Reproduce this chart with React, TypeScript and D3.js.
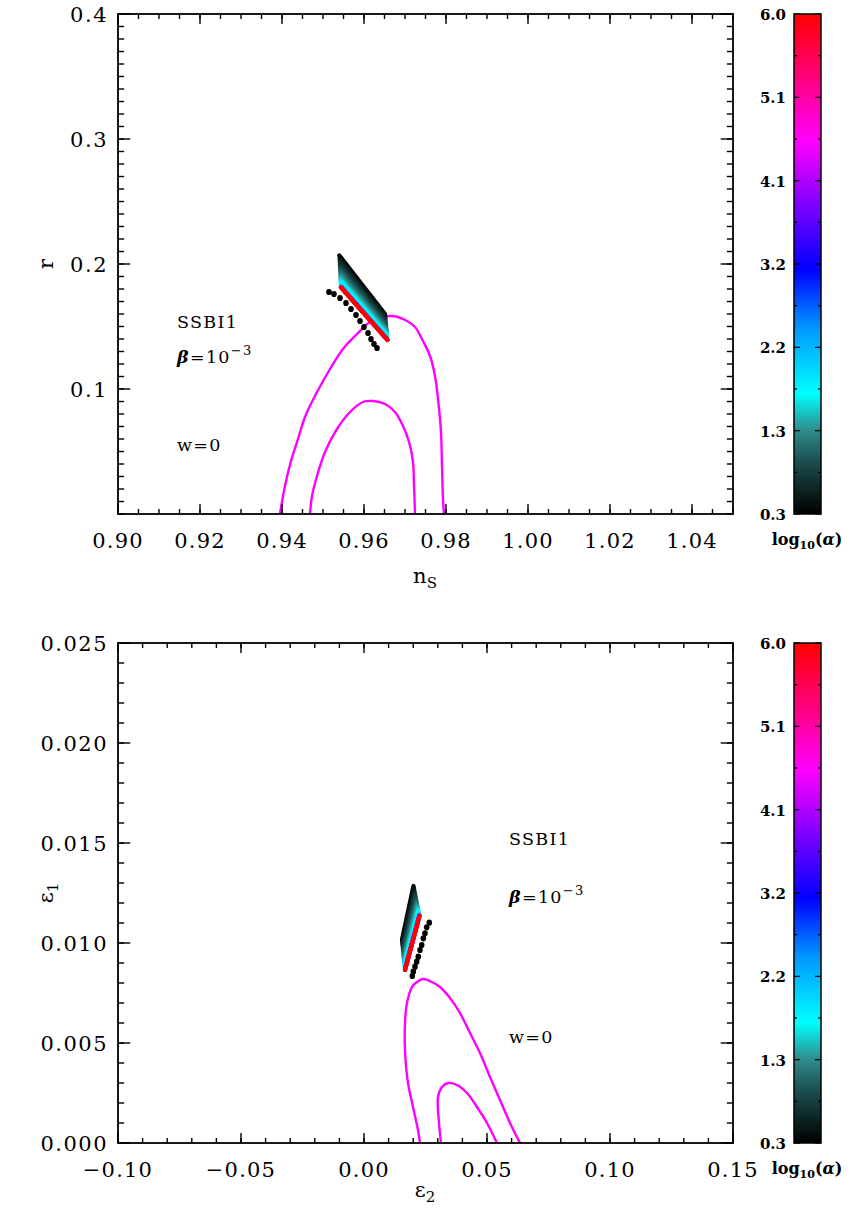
import React from "react";
import * as d3 from "d3";

// ---------------- DATA ----------------
// log10(alpha) levels of the scan
const logAlpha = [0.3, 0.4, 0.5, 0.6, 0.7, 0.8, 0.9, 1.0, 1.1, 1.2, 1.3, 1.4, 1.5, 1.6, 1.7, 1.8, 2.2, 3.2, 4.1, 5.1, 6.0];

// (n_s, r) plane: each alpha level runs from a "start" point to an "end" point
const nsStart = [0.954, 0.95405, 0.95407, 0.9541, 0.95412, 0.95415, 0.95418, 0.9542, 0.95422, 0.95425, 0.95427, 0.95429, 0.9543, 0.95432, 0.95433, 0.95435, 0.95438, 0.95438, 0.95439, 0.95439, 0.95439];
const rStart = [0.2068, 0.20501, 0.20322, 0.20142, 0.19963, 0.19784, 0.19605, 0.19426, 0.19272, 0.19118, 0.18965, 0.18837, 0.18709, 0.18606, 0.18504, 0.18427, 0.18184, 0.18158, 0.18146, 0.18133, 0.1812];
const nsEnd = [0.96512, 0.96516, 0.96521, 0.96525, 0.96529, 0.96533, 0.96538, 0.96542, 0.96546, 0.96549, 0.96553, 0.96556, 0.96559, 0.96561, 0.96564, 0.96566, 0.96571, 0.96572, 0.96572, 0.96573, 0.96573];
const rEnd = [0.16, 0.15854, 0.15709, 0.15563, 0.15418, 0.15272, 0.15126, 0.14981, 0.14856, 0.14731, 0.14606, 0.14502, 0.14398, 0.14315, 0.14232, 0.1417, 0.13972, 0.13951, 0.13941, 0.1393, 0.1392];

// (eps2, eps1) plane
const e2Start = [0.02012, 0.02029, 0.02046, 0.02063, 0.0208, 0.02097, 0.02114, 0.02132, 0.02146, 0.02161, 0.02175, 0.02188, 0.022, 0.0221, 0.02219, 0.02227, 0.0225, 0.02252, 0.02254, 0.02255, 0.02256];
const e1Start = [0.01285, 0.012745, 0.01264, 0.012535, 0.01243, 0.012325, 0.01222, 0.012115, 0.012025, 0.011935, 0.011845, 0.01177, 0.011695, 0.011635, 0.011575, 0.01153, 0.011388, 0.011373, 0.011365, 0.011358, 0.01135];
const e2End = [0.01545, 0.01554, 0.01562, 0.01571, 0.01579, 0.01588, 0.01596, 0.01605, 0.01612, 0.01619, 0.01627, 0.01633, 0.01639, 0.01644, 0.01649, 0.01652, 0.01664, 0.01665, 0.01666, 0.01666, 0.01667];
const e1End = [0.01015, 0.010045, 0.00994, 0.009835, 0.00973, 0.009625, 0.00952, 0.009415, 0.009325, 0.009235, 0.009145, 0.00907, 0.008995, 0.008935, 0.008875, 0.00883, 0.008688, 0.008673, 0.008665, 0.008658, 0.00865];

// black marker trail
const dotNs = [0.95146, 0.95268, 0.95415, 0.95561, 0.95683, 0.95805, 0.95902, 0.96, 0.96098, 0.96171, 0.96244, 0.96317];
const dotR = [0.1776, 0.176, 0.1728, 0.1688, 0.164, 0.1592, 0.1544, 0.1496, 0.1448, 0.14, 0.136, 0.1328];
const dotE2 = [0.02654, 0.02549, 0.0248, 0.02411, 0.02346, 0.02276, 0.02207, 0.02142, 0.02073, 0.02004, 0.01963];
const dotE1 = [0.011015, 0.010785, 0.010485, 0.010235, 0.0099, 0.00965, 0.009315, 0.009065, 0.008815, 0.008565, 0.00835];

// Planck contours, (n_s, r)
const outerNs = [0.9395, 0.94073, 0.9422, 0.9439, 0.94561, 0.94829, 0.95171, 0.95488, 0.95829, 0.96146, 0.9639, 0.96634, 0.96829, 0.97049, 0.97244, 0.97439, 0.9761, 0.97732, 0.97805, 0.97878, 0.97902, 0.97927, 0.97951];
const outerR = [0.0, 0.0224, 0.0424, 0.06, 0.0776, 0.096, 0.116, 0.132, 0.144, 0.1536, 0.1568, 0.1584, 0.1576, 0.1544, 0.1496, 0.1384, 0.1264, 0.1104, 0.092, 0.0656, 0.0384, 0.012, 0.0];
const innerNs = [0.94683, 0.94732, 0.94854, 0.95049, 0.95341, 0.95659, 0.95976, 0.9622, 0.96512, 0.96756, 0.96951, 0.97098, 0.97195, 0.9722, 0.97244];
const innerR = [0.0, 0.0144, 0.0304, 0.0496, 0.068, 0.0816, 0.0896, 0.0904, 0.088, 0.0816, 0.0704, 0.0576, 0.0416, 0.0224, 0.0];

// Planck contours, (eps2, eps1)
const outerE2 = [0.02276, 0.02195, 0.01992, 0.01789, 0.01667, 0.01667, 0.01748, 0.01951, 0.02154, 0.02398, 0.02764, 0.03089, 0.03496, 0.03902, 0.04309, 0.04715, 0.05122, 0.05528, 0.05935, 0.06341];
const outerE1 = [0.0, 0.00065, 0.0018, 0.003, 0.00465, 0.006, 0.007, 0.0078, 0.00805, 0.0082, 0.00805, 0.0078, 0.00725, 0.0065, 0.0055, 0.0045, 0.0033, 0.00215, 0.001, 0.0];
const innerE2 = [0.0313, 0.03049, 0.03008, 0.03171, 0.03415, 0.0378, 0.04187, 0.04593, 0.05, 0.05407];
const innerE1 = [0.0, 0.001, 0.0023, 0.0028, 0.003, 0.0029, 0.0025, 0.0018, 0.001, 0.0];

// axes
const nsTicks = [0.9, 0.92, 0.94, 0.96, 0.98, 1.0, 1.02, 1.04];
const nsTickLabels = ["0.90", "0.92", "0.94", "0.96", "0.98", "1.00", "1.02", "1.04"];
const rTicks = [0.1, 0.2, 0.3, 0.4];
const rTickLabels = ["0.1", "0.2", "0.3", "0.4"];
const e2Ticks = [-0.1, -0.05, 0.0, 0.05, 0.1, 0.15];
const e2TickLabels = ["\u22120.10", "\u22120.05", "0.00", "0.05", "0.10", "0.15"];
const e1Ticks = [0.0, 0.005, 0.01, 0.015, 0.02, 0.025];
const e1TickLabels = ["0.000", "0.005", "0.010", "0.015", "0.020", "0.025"];

// colour bar
const cbTicks = [0.3, 1.25, 2.2, 3.15, 4.1, 5.05, 6.0];
const cbTickLabels = ["0.3", "1.3", "2.2", "3.2", "4.1", "5.1", "6.0"];
const cmapPos = [0.3, 0.87, 1.27, 1.67, 2.41, 3.09, 3.83, 4.55, 5.26, 6.0];
const cmapColors = ["#000000", "#1a4a4a", "#2f8f8f", "#00ffff", "#0099ff", "#0000ff", "#7f00ff", "#ff00ff", "#ff0080", "#ff0000"];

// ---------------- DRAWING ----------------
const FONT = "'DejaVu Serif', serif";
const colour = d3.scaleLinear<string>().domain(cmapPos).range(cmapColors).interpolate(d3.interpolateRgb).clamp(true);

type PanelProps = {
  top: number;
  xDomain: [number, number];
  yDomain: [number, number];
  xTicks: number[]; xTickLabels: string[]; xMinor: number;
  yTicks: number[]; yTickLabels: string[]; yMinor: number;
  xs: number[]; ys: number[]; xe: number[]; ye: number[];
  dx: number[]; dy: number[];
  cont: [number[], number[]][];
  xLabel: React.ReactNode; yLabel: React.ReactNode; xLabelOff: number;
  annX: number; annY: [number, number, number];
  gid: string;
};

const L = 118, R = 733, PH = 500;

function Panel(p: PanelProps) {
  const x = d3.scaleLinear().domain(p.xDomain).range([L, R]);
  const y = d3.scaleLinear().domain(p.yDomain).range([p.top + PH, p.top]);
  const bottom = p.top + PH;
  const xMinorT = d3.range(Math.round((p.xDomain[1] - p.xDomain[0]) / p.xMinor) + 1).map(i => p.xDomain[0] + i * p.xMinor);
  const yMinorT = d3.range(Math.round((p.yDomain[1] - p.yDomain[0]) / p.yMinor) + 1).map(i => p.yDomain[0] + i * p.yMinor);
  const line = d3.line<[number, number]>().x(d => x(d[0])).y(d => y(d[1])).curve(d3.curveCatmullRom);
  const xTL = 10, yTL = 12.3;
  const cbL = 794, cbR = 821;
  const cy = d3.scaleLinear().domain([0.3, 6.0]).range([bottom, p.top]);
  const cbMinor = cbTicks.slice(0, -1).map((t, i) => (t + cbTicks[i + 1]) / 2);
  return (
    <g>
      <defs>
        <clipPath id={"clip" + p.gid}><rect x={L} y={p.top} width={R - L} height={PH} /></clipPath>
        <linearGradient id={"grad" + p.gid} x1="0" y1="1" x2="0" y2="0">
          {cmapPos.map((v, i) => (
            <stop key={i} offset={(v - 0.3) / 5.7} stopColor={cmapColors[i]} />
          ))}
        </linearGradient>
      </defs>
      <g clipPath={`url(#clip${p.gid})`}>
        {p.cont.map((c, i) => (
          <path key={i} d={line(c[0].map((v, j) => [v, c[1][j]] as [number, number])) || ""} fill="none" stroke="#ff00ff" strokeWidth={2.4} />
        ))}
      </g>
      {logAlpha.map((a, i) => (
        <line key={i} x1={x(p.xs[i])} y1={y(p.ys[i])} x2={x(p.xe[i])} y2={y(p.ye[i])} stroke={colour(a)} strokeWidth={4.3} strokeLinecap="round" />
      ))}
      {p.dx.map((v, i) => (
        <ellipse key={i} cx={x(v)} cy={y(p.dy[i])} rx={2.8} ry={3.1} fill="#000" />
      ))}
      {/* frame */}
      <rect x={L} y={p.top} width={R - L} height={PH} fill="none" stroke="#000" strokeWidth={1.8} />
      {xMinorT.map((t, i) => (
        <g key={"xm" + i} stroke="#000" strokeWidth={1.4}>
          <line x1={x(t)} x2={x(t)} y1={bottom} y2={bottom - xTL / 2} />
          <line x1={x(t)} x2={x(t)} y1={p.top} y2={p.top + xTL / 2} />
        </g>
      ))}
      {p.xTicks.map((t, i) => (
        <g key={"xt" + i}>
          <line x1={x(t)} x2={x(t)} y1={bottom} y2={bottom - xTL} stroke="#000" strokeWidth={1.4} />
          <line x1={x(t)} x2={x(t)} y1={p.top} y2={p.top + xTL} stroke="#000" strokeWidth={1.4} />
          <text x={x(t)} y={bottom + 34} textAnchor="middle" fontFamily={FONT} fontSize={21} letterSpacing={1.2}>{p.xTickLabels[i]}</text>
        </g>
      ))}
      {yMinorT.map((t, i) => (
        <g key={"ym" + i} stroke="#000" strokeWidth={1.4}>
          <line x1={L} x2={L + yTL / 2} y1={y(t)} y2={y(t)} />
          <line x1={R} x2={R - yTL / 2} y1={y(t)} y2={y(t)} />
        </g>
      ))}
      {p.yTicks.map((t, i) => (
        <g key={"yt" + i}>
          <line x1={L} x2={L + yTL} y1={y(t)} y2={y(t)} stroke="#000" strokeWidth={1.4} />
          <line x1={R} x2={R - yTL} y1={y(t)} y2={y(t)} stroke="#000" strokeWidth={1.4} />
          <text x={108} y={y(t) + 7.5} textAnchor="end" fontFamily={FONT} fontSize={21} letterSpacing={1.5}>{p.yTickLabels[i]}</text>
        </g>
      ))}
      <text x={425} y={bottom + p.xLabelOff} textAnchor="middle" fontFamily={FONT} fontSize={21}>{p.xLabel}</text>
      <text transform={`translate(53,${p.top + PH / 2}) rotate(-90)`} textAnchor="middle" fontFamily={FONT} fontSize={21}>{p.yLabel}</text>
      {/* annotations */}
      <g fontFamily={FONT} fontSize={17.5} letterSpacing={1.3}>
        <text x={p.annX} y={p.annY[0]}>SSBI1</text>
        <text x={p.annX} y={p.annY[1]}>
          <tspan fontStyle="italic" fontWeight="bold">β</tspan>=10<tspan dy={-8} fontSize={13}>−3</tspan>
        </text>
        <text x={p.annX} y={p.annY[2]}>w=0</text>
      </g>
      {/* colour bar */}
      <rect x={cbL} y={p.top} width={cbR - cbL} height={PH} fill={`url(#grad${p.gid})`} stroke="#000" strokeWidth={1.5} />
      {cbMinor.map((t, i) => (
        <g key={"cm" + i} stroke="#000" strokeWidth={1.2}>
          <line x1={cbL} x2={cbL + 3} y1={cy(t)} y2={cy(t)} />
          <line x1={cbR} x2={cbR - 3} y1={cy(t)} y2={cy(t)} />
        </g>
      ))}
      {cbTicks.map((t, i) => (
        <g key={"ct" + i}>
          <line x1={cbL} x2={cbL + 6} y1={cy(t)} y2={cy(t)} stroke="#000" strokeWidth={1.2} />
          <line x1={cbR} x2={cbR - 6} y1={cy(t)} y2={cy(t)} stroke="#000" strokeWidth={1.2} />
          <text x={786} y={cy(t) + 6} textAnchor="end" fontFamily={FONT} fontSize={15} fontWeight="bold">{cbTickLabels[i]}</text>
        </g>
      ))}
      <text x={807} y={bottom + 31} textAnchor="middle" fontFamily={FONT} fontSize={16} fontWeight="bold">
        log<tspan dy={4} fontSize={11}>10</tspan><tspan dy={-4}>(</tspan><tspan fontStyle="italic">α</tspan>)
      </text>
    </g>
  );
}

export default function App() {
  return (
    <svg width={856} height={1215} style={{ position: "absolute", left: 0, top: 0, background: "#fff" }}>
      <rect width={856} height={1215} fill="#fff" />
      <Panel
        gid="a" top={14}
        xDomain={[0.9, 1.05]} yDomain={[0, 0.4]}
        xTicks={nsTicks} xTickLabels={nsTickLabels} xMinor={0.005}
        yTicks={rTicks} yTickLabels={rTickLabels} yMinor={0.01}
        xs={nsStart} ys={rStart} xe={nsEnd} ye={rEnd}
        dx={dotNs} dy={dotR}
        cont={[[outerNs, outerR], [innerNs, innerR]]}
        xLabel={<>n<tspan dy={5} fontSize={15}>S</tspan></>}
        xLabelOff={69}
        yLabel={"r"}
        annX={177} annY={[328, 363, 451]}
      />
      <Panel
        gid="b" top={643}
        xDomain={[-0.1, 0.15]} yDomain={[0, 0.025]}
        xTicks={e2Ticks} xTickLabels={e2TickLabels} xMinor={0.01}
        yTicks={e1Ticks} yTickLabels={e1TickLabels} yMinor={0.001}
        xs={e2Start} ys={e1Start} xe={e2End} ye={e1End}
        dx={dotE2} dy={dotE1}
        cont={[[outerE2, outerE1], [innerE2, innerE1]]}
        xLabel={<>ε<tspan dy={5} fontSize={15}>2</tspan></>}
        xLabelOff={54}
        yLabel={<>ε<tspan dy={5} fontSize={15}>1</tspan></>}
        annX={509} annY={[845, 903, 1043]}
      />
    </svg>
  );
}
